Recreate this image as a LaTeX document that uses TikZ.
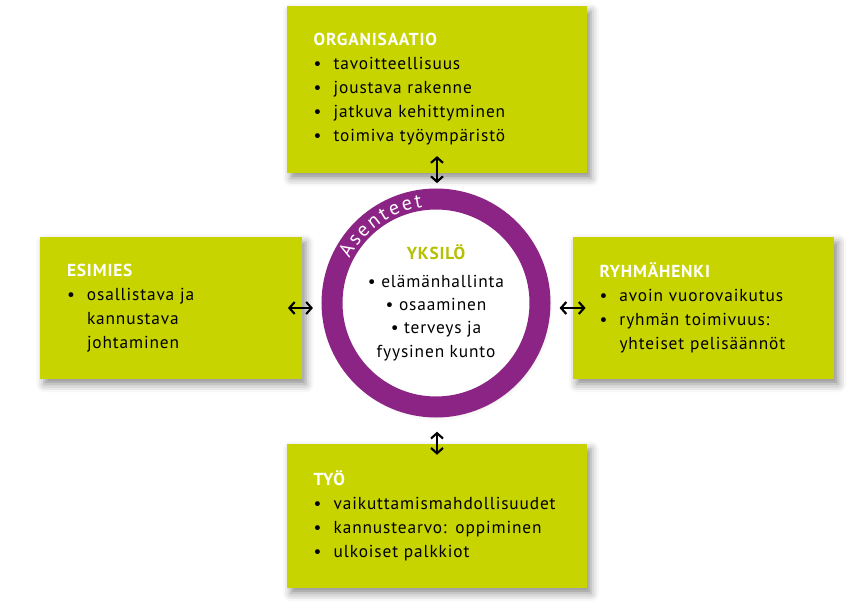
\documentclass[tikz,border=0pt]{standalone}
\usepackage{fontspec}
\setmainfont{PT Sans}[LetterSpace=5]
\usepackage{tikz}
\usetikzlibrary{positioning, arrows.meta, calc, shadows.blur, decorations.text}
\definecolor{Lime}{HTML}{C8D400}
\definecolor{LimeDark}{HTML}{B4C000}
\definecolor{Plum}{HTML}{8C2486}
\newcommand{\bul}{\makebox[15pt][l]{\textbullet}}
\newcommand{\ind}{\hspace*{15pt}}
\newcommand{\hd}[1]{{\bfseries\color{white}#1}\\}

\tikzset{
  box/.style={fill=Lime, inner xsep=20pt, inner ysep=0pt, align=left,
    font=\fontsize{13}{18}\selectfont,
    blur shadow={shadow xshift=3pt, shadow yshift=-4pt, shadow blur radius=6pt, shadow opacity=45}},
  ring/.style={circle, draw=Plum, line width=15.75pt, fill=white, inner sep=0pt,
    minimum size=156pt, align=center, font=\fontsize{13}{17.5}\selectfont,
    blur shadow={shadow xshift=2pt, shadow yshift=-3pt, shadow blur radius=7pt, shadow opacity=40}},
  link/.style={{Straight Barb[length=4pt,width=9pt]}-{Straight Barb[length=4pt,width=9pt]},
    line width=1.6pt}
}

\begin{document}
\begin{tikzpicture}[x=0.75pt, y=0.75pt]
  \useasboundingbox (0,0) rectangle (868,612);

  % boxes
  \node[box, text width=185pt, minimum height=125pt] (org) at (437,522.5) {%
    \hd{ORGANISAATIO}
    \bul tavoitteellisuus\\
    \bul joustava rakenne\\
    \bul jatkuva kehittyminen\\
    \bul toimiva työympäristö};
  \node[box, text width=156pt, minimum height=106.5pt] (esimies) at (171,304) {%
    \hd{ESIMIES}
    \bul osallistava ja\\
    \ind kannustava\\
    \ind johtaminen};
  \node[box, text width=156pt, minimum height=106.5pt] (ryhma) at (703.5,304) {%
    \hd{RYHMÄHENKI}
    \bul avoin vuorovaikutus\\
    \bul ryhmän toimivuus:\\
    \ind yhteiset pelisäännöt};
  \node[box, text width=185pt, minimum height=108pt] (tyo) at (437,96) {%
    \hd{TYÖ}
    \bul vaikuttamismahdollisuudet\\
    \bul kannustearvo: oppiminen\\
    \bul ulkoiset palkkiot};

  % ring
  \node[ring] (yksilo) at (436,309) {%
    {\bfseries\color{LimeDark}YKSILÖ}\\[3pt]
    \textbullet\ elämänhallinta\\
    \textbullet\ osaaminen\\
    \textbullet\ terveys ja\\
    fyysinen kunto};
  \path[decorate, decoration={text along path, text align=fit to path,
      text={|\fontsize{15}{15}\selectfont\color{white}|Asenteet}}]
    ($(yksilo.center)+(153:97)$) arc[start angle=153, end angle=98, radius=97];

  % links
  \draw[link] ($(org.south)+(0,17)$) -- ($(org.south)+(0,-10)$);
  \draw[link] ($(tyo.north)+(0,12)$) -- ($(tyo.north)+(0,-11)$);
  \draw[link] ($(esimies.east)+(-14,0)$) -- ($(esimies.east)+(11,0)$);
  \draw[link] ($(ryhma.west)+(-13,0)$) -- ($(ryhma.west)+(13,0)$);
\end{tikzpicture}
\end{document}
